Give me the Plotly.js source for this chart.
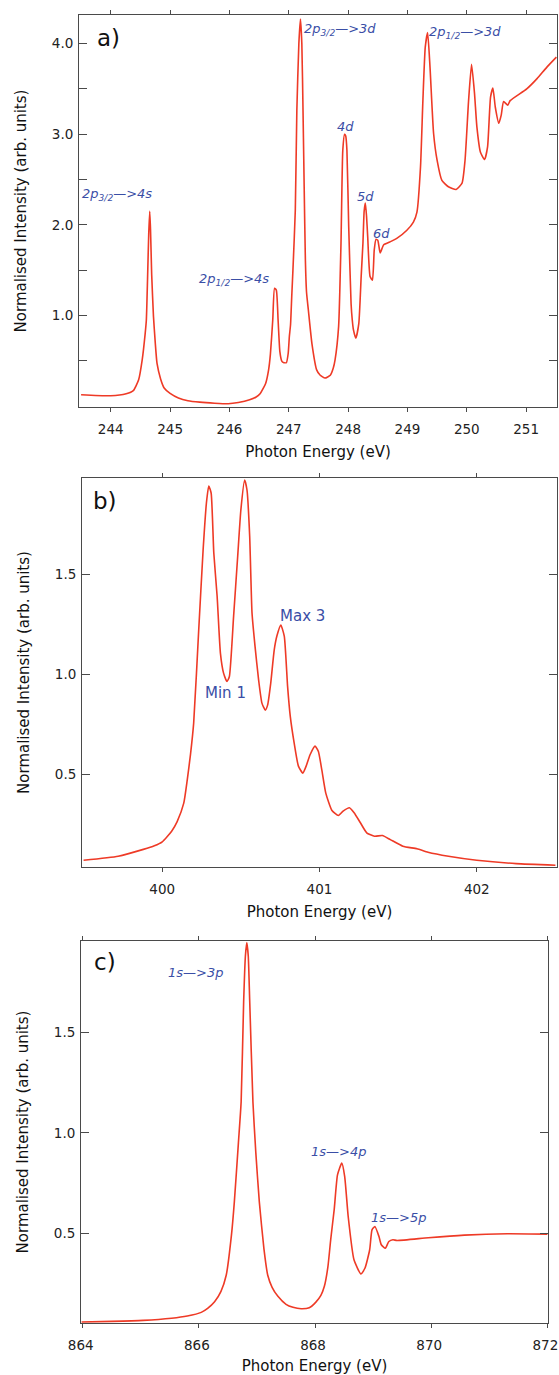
<!DOCTYPE html>
<html><head><meta charset="utf-8">
<script src="https://cdn.plot.ly/plotly-3.0.1.min.js"></script>
<style>html,body{margin:0;padding:0;background:#fff}</style>
</head><body>
<div id="chart" style="width:559px;height:1375px"></div>
<script>
// ---- Panel a) 2p edge ----
const energyA = [243.50,244.00,244.26,244.38,244.47,244.53,244.58,244.60,244.62,244.64,244.657,244.67,244.69,244.72,244.75,244.78,244.84,244.90,245.00,245.14,245.30,245.50,245.75,245.98,246.15,246.34,246.45,246.52,246.61,246.66,246.69,246.73,246.76,246.79,246.82,246.85,246.88,246.91,246.96,246.99,247.01,247.03,247.05,247.07,247.11,247.136,247.17,247.197,247.22,247.24,247.26,247.28,247.30,247.33,247.39,247.47,247.53,247.61,247.70,247.75,247.78,247.84,247.88,247.91,247.94,247.96,247.98,248.01,248.05,248.07,248.09,248.13,248.18,248.22,248.25,248.27,248.29,248.31,248.33,248.37,248.41,248.44,248.47,248.50,248.54,248.60,248.70,248.82,248.99,249.10,249.16,249.22,249.26,249.30,249.34,249.38,249.44,249.50,249.58,249.69,249.82,249.92,249.97,250.03,250.08,250.13,250.17,250.23,250.30,250.35,250.40,250.44,250.48,250.54,250.58,250.62,250.69,250.73,251.01,251.18,251.35,251.51];
const intensityA = [0.125,0.114,0.136,0.17,0.29,0.51,0.80,0.95,1.40,1.90,2.15,1.95,1.45,0.99,0.70,0.47,0.30,0.20,0.14,0.09,0.06,0.044,0.032,0.026,0.04,0.07,0.10,0.14,0.25,0.40,0.57,0.95,1.30,1.28,0.95,0.60,0.50,0.48,0.48,0.58,0.77,0.90,1.21,1.50,2.16,3.26,4.00,4.27,4.00,3.26,2.40,1.61,1.25,1.06,0.69,0.40,0.34,0.31,0.34,0.42,0.51,0.88,1.80,2.82,3.00,2.98,2.82,1.98,1.13,0.95,0.84,0.75,0.91,1.43,1.80,2.15,2.24,2.10,1.87,1.43,1.39,1.72,1.84,1.83,1.69,1.78,1.81,1.85,1.94,2.03,2.14,2.64,3.37,3.96,4.12,3.74,3.01,2.71,2.49,2.42,2.39,2.46,2.71,3.37,3.77,3.45,3.08,2.80,2.72,2.86,3.41,3.51,3.30,3.12,3.21,3.36,3.32,3.37,3.50,3.61,3.74,3.85];

// ---- Panel b) N 1s ----
const energyB = [399.50,399.72,399.88,399.95,400.00,400.06,400.095,400.137,400.159,400.18,400.20,400.232,400.26,400.281,400.296,400.311,400.328,400.349,400.37,400.39,400.412,400.427,400.454,400.48,400.50,400.524,400.539,400.556,400.571,400.59,400.613,400.634,400.655,400.67,400.69,400.712,400.729,400.754,400.776,400.797,400.814,400.839,400.866,400.894,400.915,400.94,400.972,400.993,401.015,401.04,401.078,401.12,401.15,401.19,401.22,401.26,401.30,401.35,401.40,401.45,401.53,401.62,401.69,401.82,402.00,402.25,402.50];
const intensityB = [0.07,0.09,0.124,0.142,0.162,0.215,0.263,0.355,0.47,0.60,0.755,1.22,1.62,1.855,1.94,1.905,1.605,1.39,1.105,1.005,0.963,0.988,1.29,1.59,1.82,1.97,1.92,1.69,1.305,1.14,0.97,0.855,0.82,0.845,0.955,1.12,1.19,1.245,1.19,0.94,0.79,0.655,0.54,0.505,0.54,0.597,0.64,0.613,0.52,0.405,0.32,0.293,0.315,0.332,0.307,0.257,0.207,0.19,0.193,0.173,0.14,0.127,0.11,0.09,0.07,0.053,0.045];

// ---- Panel c) Ne 1s ----
const energyC = [863.98,864.50,865.04,865.53,865.80,866.04,866.15,866.27,866.38,866.47,866.56,866.61,866.68,866.727,866.77,866.80,866.825,866.85,866.875,866.93,866.98,867.04,867.12,867.185,867.26,867.36,867.50,867.62,867.76,867.90,868.01,868.10,868.16,868.22,868.27,868.33,868.386,868.46,868.51,868.57,868.67,868.79,868.86,868.94,868.98,869.03,869.10,869.14,869.21,869.27,869.34,869.41,869.95,870.57,871.31,872.00];
const intensityC = [0.057,0.060,0.065,0.076,0.087,0.105,0.125,0.158,0.21,0.29,0.49,0.656,0.95,1.154,1.652,1.88,1.948,1.88,1.652,1.154,0.90,0.656,0.42,0.29,0.23,0.185,0.145,0.13,0.123,0.128,0.155,0.19,0.235,0.33,0.47,0.62,0.79,0.849,0.782,0.583,0.367,0.296,0.326,0.417,0.516,0.533,0.483,0.442,0.425,0.458,0.467,0.463,0.477,0.49,0.497,0.495];

// ---- ticks ----
const xTicksA = [244,245,246,247,248,249,250,251];
const yTickValsA = [1.0,2.0,3.0,4.0];
const yTickTextA = ['1.0','2.0','3.0','4.0'];
const xTicksB = [400,401,402];
const yTickValsB = [0.5,1.0,1.5];
const yTickTextB = ['0.5','1.0','1.5'];
const xTicksC = [864,866,868,870,872];
const yTickValsC = [0.5,1.0,1.5];
const yTickTextC = ['0.5','1.0','1.5'];

// ---- labels ----
const labelsA = ['2p<sub>3/2</sub>—>4s','2p<sub>1/2</sub>—>4s','2p<sub>3/2</sub>—>3d','4d','5d','6d','2p<sub>1/2</sub>—>3d'];
const labelXA = [244.11,246.08,247.87,247.95,248.30,248.56,249.97];
const labelYA = [2.34,1.40,4.16,3.08,2.31,1.90,4.12];
const labelsB = ['Max 3','Min 1'];
const labelXB = [400.895,400.40];
const labelYB = [1.29,0.906];
const labelsC = ['1s—>3p','1s—>4p','1s—>5p'];
const labelXC = [865.94,868.41,869.44];
const labelYC = [1.80,0.905,0.58];

const xTitle = 'Photon Energy (eV)';
const yTitle = 'Normalised Intensity (arb. units)';
const panelNames = ['a)','b)','c)'];

const FONT = 'DejaVu Sans';
const LINE = '#4a4a4a';
const RED = '#ee3a26';
const BLUE = '#3a4ea6';

const line = {color: RED, width: 1.6, shape: 'spline', smoothing: 0.5};
const traces = [
  {x: energyA, y: intensityA, xaxis: 'x', yaxis: 'y', type: 'scatter', mode: 'lines', line},
  {x: energyB, y: intensityB, xaxis: 'x2', yaxis: 'y2', type: 'scatter', mode: 'lines', line},
  {x: energyC, y: intensityC, xaxis: 'x3', yaxis: 'y3', type: 'scatter', mode: 'lines', line}
];

const tickFont = {family: FONT, size: 13.5, color: '#222'};
function xMain(domain, range, ticks, anchor, shift) {
  return {domain, range, anchor, tickmode: 'array', tickvals: ticks, ticktext: ticks.map(String),
    showline: true, linecolor: LINE, linewidth: 1, ticks: 'outside', ticklen: 4, tickcolor: LINE, tickwidth: 1,
    mirror: 'ticks', showgrid: false, zeroline: false, tickfont: tickFont, ticklabelstandoff: 6,
    ticklabeloverflow: 'allow', ticklabelshift: shift || 0,
    title: {text: xTitle, font: {family: FONT, size: 15, color: '#111'}, standoff: 10}};
}
function xOver(over, range, ticks, anchor) {
  return {overlaying: over, range, anchor, tickmode: 'array', tickvals: ticks, showticklabels: false,
    showline: false, ticks: 'inside', ticklen: 5, tickcolor: LINE, tickwidth: 1, mirror: 'ticks',
    showgrid: false, zeroline: false};
}
function yMain(domain, range, vals, text, anchor, minor) {
  const ax = {domain, range, anchor, tickmode: 'array', tickvals: vals, ticktext: text,
    showline: true, linecolor: LINE, linewidth: 1, ticks: 'inside', ticklen: 8, tickcolor: LINE, tickwidth: 1,
    mirror: 'ticks', showgrid: false, zeroline: false, tickfont: tickFont, ticklabelstandoff: 2,
    title: {text: yTitle, font: {family: FONT, size: 15, color: '#111'}, standoff: 21}};
  if (minor) ax.minor = {tick0: 0, dtick: minor, ticks: 'inside', ticklen: 8, tickcolor: LINE, tickwidth: 1, showgrid: false};
  return ax;
}

const ML = 60, PW = 498;
const dx = (px) => (px - ML) / PW;
const dy = (py) => 1 - py / 1375;

const layout = {
  width: 559, height: 1375,
  margin: {l: ML, r: 1, t: 0, b: 0},
  paper_bgcolor: '#fff', plot_bgcolor: '#fff',
  showlegend: false,
  xaxis: xMain([dx(79), dx(557)], [243.465, 251.52], xTicksA, 'y'),
  yaxis: yMain([dy(407), dy(15)], [-0.01, 4.315], yTickValsA, yTickTextA, 'x', 0.5),
  xaxis2: xMain([dx(82), dx(557)], [399.49, 402.51], xTicksB, 'y2'),
  yaxis2: yMain([dy(867), dy(478)], [0.036, 1.98], yTickValsB, yTickTextB, 'x2'),
  xaxis3: xMain([dx(81), dx(548)], [863.97, 872.01], xTicksC, 'y3', -2),
  yaxis3: yMain([dy(1323), dy(941)], [0.052, 1.956], yTickValsC, yTickTextC, 'x3'),
  xaxis4: xOver('x', [243.465, 251.52], xTicksA, 'y'),
  xaxis5: xOver('x2', [399.49, 402.51], xTicksB, 'y2'),
  xaxis6: xOver('x3', [863.97, 872.01], xTicksC, 'y3'),
  annotations: []
};

labelsA.forEach((t, i) => layout.annotations.push({text: '<i>' + t + '</i>', x: labelXA[i], y: labelYA[i], xref: 'x', yref: 'y', showarrow: false, font: {family: FONT, size: 13, color: BLUE}}));
labelsB.forEach((t, i) => layout.annotations.push({text: t, x: labelXB[i], y: labelYB[i], xref: 'x2', yref: 'y2', showarrow: false, font: {family: FONT, size: 15, color: BLUE}}));
labelsC.forEach((t, i) => layout.annotations.push({text: '<i>' + t + '</i>', x: labelXC[i], y: labelYC[i], xref: 'x3', yref: 'y3', showarrow: false, font: {family: FONT, size: 13, color: BLUE}}));

const panelPos = [['x domain','y domain',0.0335,0.941],['x2 domain','y2 domain',0.019,0.941],['x3 domain','y3 domain',0.0236,0.946]];
panelNames.forEach((t, i) => layout.annotations.push({text: t, xref: panelPos[i][0], yref: panelPos[i][1], x: panelPos[i][2], y: panelPos[i][3], xanchor: 'left', yanchor: 'middle', showarrow: false, font: {family: FONT, size: 23, color: '#111'}}));

Plotly.newPlot('chart', traces, layout, {staticPlot: true, displayModeBar: false});
</script>
</body></html>
